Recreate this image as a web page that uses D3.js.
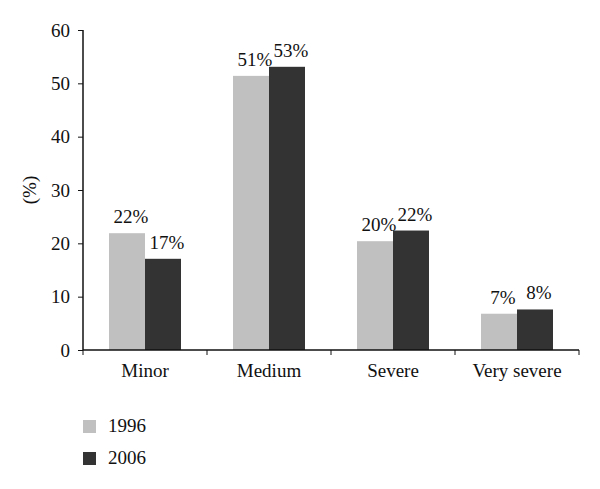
<!DOCTYPE html>
<html><head><meta charset="utf-8">
<script src="https://cdn.jsdelivr.net/npm/d3@7"></script>
<style>body{margin:0;background:#fff}svg{display:block}text{font-family:"Liberation Serif","DejaVu Serif",serif;fill:#111}</style>
</head><body>
<script>
const categories = ["Minor","Medium","Severe","Very severe"];
const series = ["1996","2006"];
const values1996 = [21.9, 51.4, 20.4, 6.8];
const values2006 = [17.1, 53.1, 22.4, 7.6];
const labels1996 = ["22%","51%","20%","7%"];
const labels2006 = ["17%","53%","22%","8%"];
const yTicks = [0,10,20,30,40,50,60];
const colors = ["#c0c0c0","#333333"];

const W=600,H=489,FS=19;
const svg=d3.select("body").append("svg").attr("width",W).attr("height",H);
const x=d3.scaleBand().domain(categories).range([83,579]).paddingInner(0).paddingOuter(0);
const x1=d3.scaleBand().domain(series).range([26,x.bandwidth()-26]);
const y=d3.scaleLinear().domain([0,60]).range([350,30]);

const data=categories.map((c,i)=>({c,vals:[{s:"1996",v:values1996[i],l:labels1996[i]},{s:"2006",v:values2006[i],l:labels2006[i]}]}));
const g=svg.append("g").selectAll("g").data(data).join("g").attr("transform",d=>`translate(${x(d.c)},0)`);
g.selectAll("rect").data(d=>d.vals).join("rect")
 .attr("x",d=>x1(d.s)).attr("width",x1.bandwidth())
 .attr("y",d=>y(d.v)).attr("height",d=>y(0)-y(d.v))
 .attr("fill",d=>colors[series.indexOf(d.s)]);
g.selectAll("text").data(d=>d.vals).join("text")
 .attr("x",d=>x1(d.s)+x1.bandwidth()/2+4).attr("y",d=>y(d.v)-10)
 .attr("text-anchor","middle").attr("font-size",FS).text(d=>d.l);

// y axis
const ya=svg.append("g").attr("transform","translate(83,0)")
 .call(d3.axisLeft(y).tickValues(yTicks).tickSize(5).tickPadding(8));
ya.select(".domain").attr("stroke","#111").attr("stroke-width",1.5).attr("d","M0,30V350");
ya.selectAll(".tick line").attr("stroke","#111");
ya.selectAll(".tick text").attr("font-size",FS).attr("font-family","Liberation Serif").attr("fill","#111");

// x axis
const xa=svg.append("g").attr("transform","translate(0,350)");
xa.append("line").attr("x1",83).attr("x2",579).attr("stroke","#111").attr("stroke-width",1.5);
const bounds=categories.map(c=>x(c)).concat([x.range()[1]]);
xa.selectAll("line.t").data(bounds).join("line").attr("class","t")
 .attr("x1",d=>d).attr("x2",d=>d).attr("y1",0).attr("y2",5).attr("stroke","#111");
xa.selectAll("text").data(categories).join("text")
 .attr("x",d=>x(d)+x.bandwidth()/2).attr("y",27).attr("text-anchor","middle")
 .attr("font-size",FS).text(d=>d);

svg.append("text").attr("transform","translate(36,190) rotate(-90)")
 .attr("text-anchor","middle").attr("font-size",FS).text("(%)");

// legend
const lg=svg.append("g").selectAll("g").data(series).join("g")
 .attr("transform",(d,i)=>`translate(83,${420+i*32})`);
lg.append("rect").attr("width",13).attr("height",13).attr("fill",(d,i)=>colors[i]);
lg.append("text").attr("x",25).attr("y",12).attr("font-size",FS).text(d=>d);
</script>
</body></html>
